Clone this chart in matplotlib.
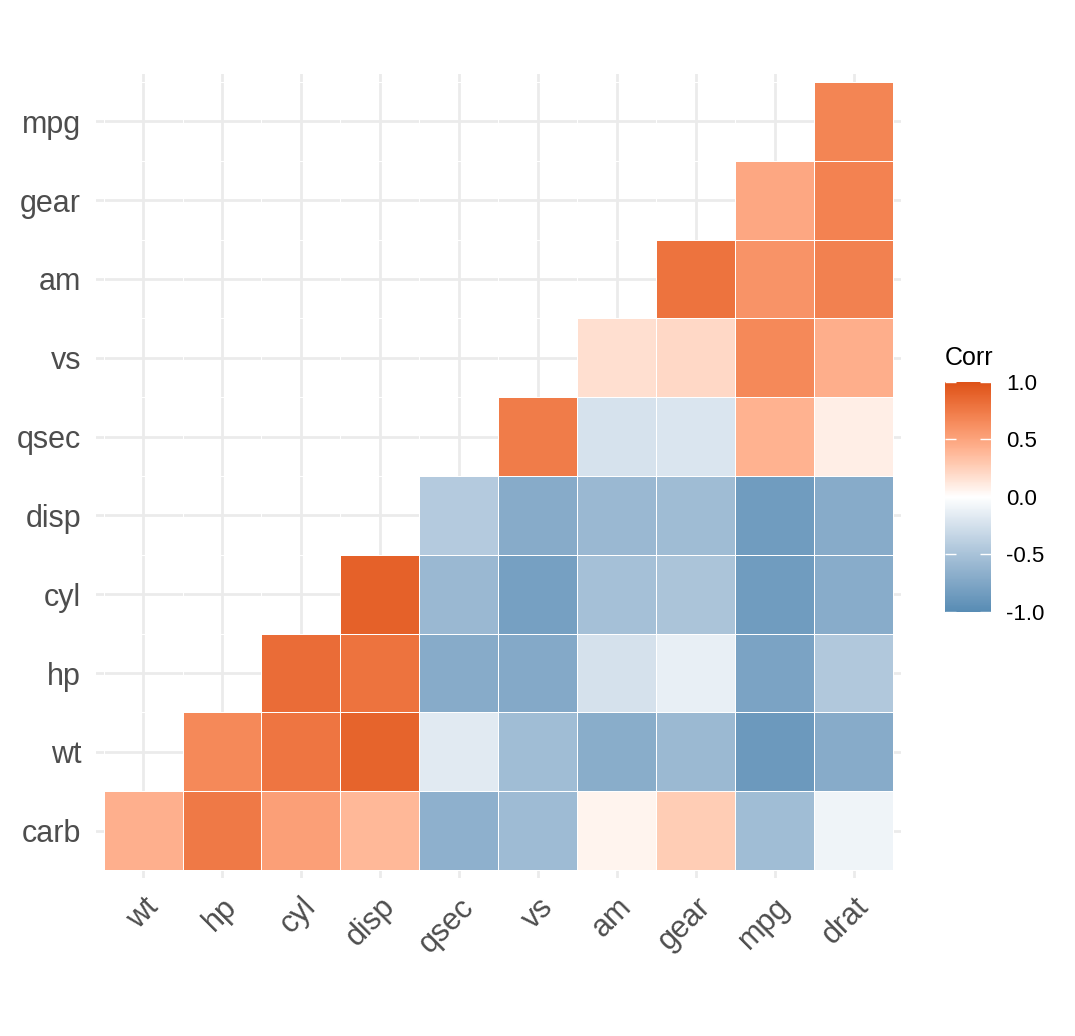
import numpy as np
import matplotlib
matplotlib.use("Agg")
import matplotlib.pyplot as plt
from matplotlib.colors import ListedColormap

plt.rcParams['font.family'] = ['Liberation Sans', 'DejaVu Sans']

x_labels = ['wt', 'hp', 'cyl', 'disp', 'qsec', 'vs', 'am', 'gear', 'mpg', 'drat']
y_labels = ['carb', 'wt', 'hp', 'cyl', 'disp', 'qsec', 'vs', 'am', 'gear', 'mpg']

# lower triangle, row by row (bottom row first); row i starts at column i
corr_rows = [
    [0.43, 0.75, 0.53, 0.39, -0.66, -0.57, 0.06, 0.27, -0.55, -0.09],
    [0.66, 0.78, 0.89, -0.17, -0.55, -0.69, -0.58, -0.87, -0.71],
    [0.83, 0.79, -0.71, -0.72, -0.24, -0.13, -0.78, -0.45],
    [0.90, -0.59, -0.81, -0.52, -0.49, -0.85, -0.70],
    [-0.43, -0.71, -0.59, -0.56, -0.85, -0.71],
    [0.74, -0.23, -0.21, 0.42, 0.09],
    [0.17, 0.21, 0.66, 0.44],
    [0.79, 0.60, 0.71],
    [0.48, 0.70],
    [0.68],
]

n = len(x_labels)
mat = np.full((n, n), np.nan)
for i, row in enumerate(corr_rows):
    mat[i, i:] = row
mat = np.ma.masked_invalid(mat)


# gradient low-white-high interpolated in Lab space
def srgb_to_lab(c):
    c = np.asarray(c, float)
    lin = np.where(c <= 0.04045, c / 12.92, ((c + 0.055) / 1.055) ** 2.4)
    M = np.array([[0.4124, 0.3576, 0.1805],
                  [0.2126, 0.7152, 0.0722],
                  [0.0193, 0.1192, 0.9505]])
    xyz = M @ lin / np.array([0.95047, 1.0, 1.08883])
    f = np.where(xyz > 0.008856, np.cbrt(xyz), 7.787 * xyz + 16 / 116)
    return np.array([116 * f[1] - 16, 500 * (f[0] - f[1]), 200 * (f[1] - f[2])])


def lab_to_srgb(lab):
    L, a, b = lab
    fy = (L + 16) / 116
    fx = fy + a / 500
    fz = fy - b / 200
    f = np.array([fx, fy, fz])
    xyz = np.where(f ** 3 > 0.008856, f ** 3, (f - 16 / 116) / 7.787)
    xyz = xyz * np.array([0.95047, 1.0, 1.08883])
    Minv = np.array([[3.2406, -1.5372, -0.4986],
                     [-0.9689, 1.8758, 0.0415],
                     [0.0557, -0.2040, 1.0570]])
    lin = Minv @ xyz
    c = np.where(lin <= 0.0031308, 12.92 * lin, 1.055 * np.clip(lin, 0, None) ** (1 / 2.4) - 0.055)
    return np.clip(c, 0, 1)


def hex_rgb(h):
    return np.array([int(h[k:k + 2], 16) / 255 for k in (1, 3, 5)])


low = srgb_to_lab(hex_rgb('#6D9EC1'))
mid = srgb_to_lab(hex_rgb('#FFFFFF'))
high = srgb_to_lab(hex_rgb('#E46726'))
cols = []
for t in np.linspace(-1, 1, 256):
    if t < 0:
        lab = mid + (low - mid) * (-t)
    else:
        lab = mid + (high - mid) * t
    # slight tone curve so the tiles come out as deep as in the original
    cols.append(lab_to_srgb(lab) ** 1.25)
cmap = ListedColormap(cols)

fig = plt.figure(figsize=(10.75, 10.36), dpi=100)
ax = fig.add_axes([95.7 / 1075, (1036 - 878) / 1036, 805.3 / 1075, 804 / 1036])

xe = np.arange(n + 1) + 0.5
ye = np.arange(n + 1) + 0.5
ax.pcolormesh(xe, ye, mat, cmap=cmap, vmin=-1, vmax=1,
              edgecolors='white', linewidth=0.7)

ax.set_xlim(0.4, n + 0.6)
ax.set_ylim(0.4, n + 0.6)
ax.set_xticks(np.arange(1, n + 1))
ax.set_yticks(np.arange(1, n + 1))
ax.set_xticklabels(x_labels, rotation=45, ha='right', rotation_mode='anchor')
ax.set_yticklabels(y_labels)
ax.tick_params(length=0, labelsize=22, labelcolor='#4D4D4D')
ax.tick_params(axis='y', pad=10.5)
ax.tick_params(axis='x', pad=10)
ax.grid(True, color='#EBEBEB', linewidth=2)
ax.set_axisbelow(True)
for s in ax.spines.values():
    s.set_visible(False)

# legend
cax = fig.add_axes([945 / 1075, (1036 - 611.7) / 1036, 45.7 / 1075, 229.7 / 1036])
sm = plt.cm.ScalarMappable(cmap=cmap, norm=plt.Normalize(-1, 1))
cb = fig.colorbar(sm, cax=cax, ticks=[-1, -0.5, 0, 0.5, 1])
cb.set_ticklabels(['-1.0', '-0.5', '0.0', '0.5', '1.0'])
cb.outline.set_visible(False)
cax.tick_params(direction='in', color='white', length=8, width=1,
                left=True, right=True, labelsize=16, pad=11, labelcolor='black')
fig.text(945 / 1075, 1 - 365 / 1036, 'Corr', fontsize=18, va='baseline', ha='left')

fig.savefig('out.png', dpi=100)
